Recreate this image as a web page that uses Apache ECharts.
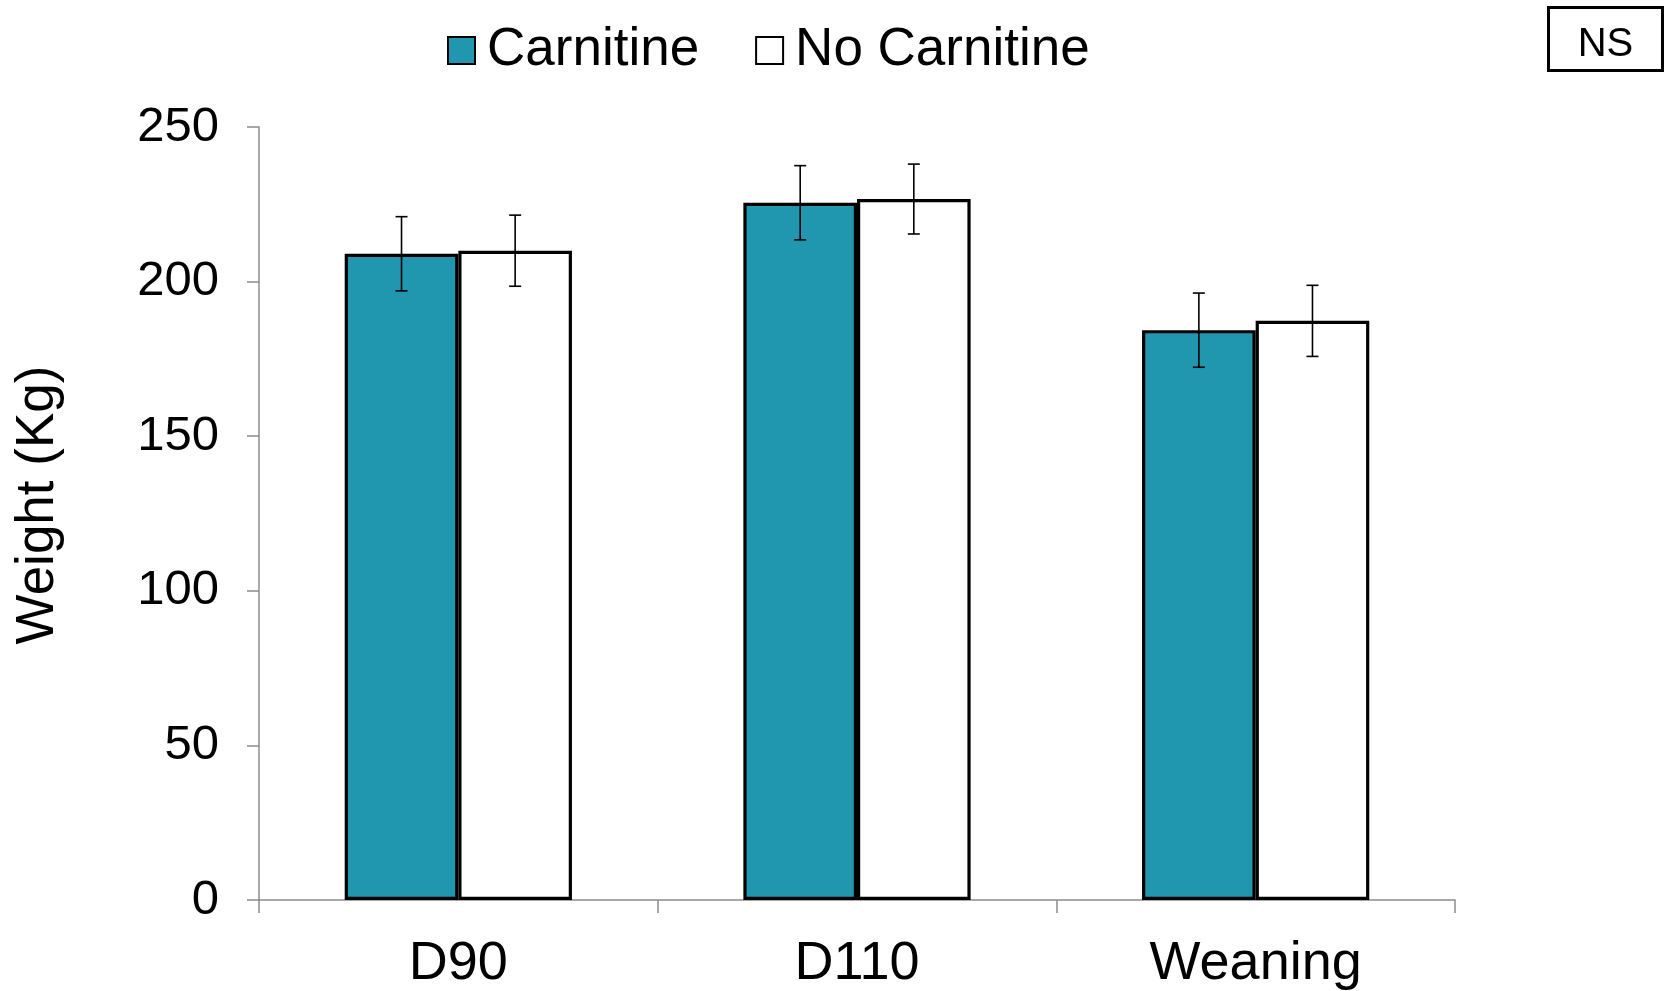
<!DOCTYPE html>
<html>
<head>
<meta charset="utf-8">
<script src="https://cdn.jsdelivr.net/npm/echarts@6/dist/echarts.min.js"></script>
<style>
html,body{margin:0;padding:0;background:#fff;}
#chart{width:1665px;height:991px;}
</style>
</head>
<body>
<div id="chart"></div>
<script>
const categories = ['D90', 'D110', 'Weaning'];
const carnitine = [209, 225.5, 184.3];
const noCarnitine = [210, 226.7, 187.3];
const carnitineErr = [12, 12, 12];
const noCarnitineErr = [11.5, 11.3, 11.5];
const yTicks = [0, 50, 100, 150, 200, 250];

const FONT = 'Liberation Sans, Arial, sans-serif';
const GAP = 0.43;

function errItem(offsetSign) {
  return function (params, api) {
    const idx = api.value(0);
    const val = api.value(1);
    const err = api.value(2);
    const band = api.size([1, 0])[0];
    const barW = band * (1 - GAP) / 2;
    const c = api.coord([idx, val]);
    const x = c[0] + offsetSign * barW / 2;
    const yt = api.coord([idx, val + err])[1];
    const yb = api.coord([idx, val - err])[1];
    const cap = 6;
    const style = { stroke: '#000', lineWidth: 1.6, fill: null };
    return {
      type: 'group',
      children: [
        { type: 'line', shape: { x1: x, y1: yt, x2: x, y2: yb }, style: style },
        { type: 'line', shape: { x1: x - cap, y1: yt, x2: x + cap, y2: yt }, style: style },
        { type: 'line', shape: { x1: x - cap, y1: yb, x2: x + cap, y2: yb }, style: style }
      ]
    };
  };
}

const chart = echarts.init(document.getElementById('chart'), null, { renderer: 'canvas' });
chart.setOption({
  animation: false,
  backgroundColor: '#fff',
  textStyle: { fontFamily: FONT },
  legend: {
    data: ['Carnitine', 'No Carnitine'],
    top: 19,
    left: 442,
    itemWidth: 27,
    itemHeight: 27,
    itemGap: 56,
    icon: 'rect',
    textStyle: { fontSize: 53, color: '#000', fontFamily: FONT, padding: [0, 0, 0, 7] }
  },
  grid: { left: 259, right: 210, top: 127, bottom: 91, containLabel: false },
  xAxis: {
    type: 'category',
    data: categories,
    axisLine: { lineStyle: { color: '#8c8c8c', width: 1.5 } },
    axisTick: { show: true, length: 13, lineStyle: { color: '#8c8c8c', width: 1.5 } },
    axisLabel: { fontSize: 54, color: '#000', margin: 37, fontFamily: FONT }
  },
  yAxis: {
    type: 'value',
    min: yTicks[0],
    max: yTicks[yTicks.length - 1],
    interval: 50,
    name: 'Weight (Kg)',
    nameLocation: 'middle',
    nameGap: 194,
    nameRotate: 90,
    nameTextStyle: { fontSize: 53, color: '#000', fontFamily: FONT, padding: [0, 0, 0, 17] },
    axisLine: { show: true, lineStyle: { color: '#8c8c8c', width: 1.5 } },
    axisTick: { show: true, length: 12, lineStyle: { color: '#8c8c8c', width: 1.5 } },
    splitLine: { show: false },
    axisLabel: { fontSize: 49, color: '#000', margin: 40, fontFamily: FONT }
  },
  series: [
    {
      name: 'Carnitine',
      type: 'bar',
      data: carnitine,
      barGap: '0%',
      barCategoryGap: (GAP * 100) + '%',
      itemStyle: { color: '#2197AF', borderColor: '#000', borderWidth: 3.2 }
    },
    {
      name: 'No Carnitine',
      type: 'bar',
      data: noCarnitine,
      barGap: '0%',
      barCategoryGap: (GAP * 100) + '%',
      itemStyle: { color: '#ffffff', borderColor: '#000', borderWidth: 3.2 }
    },
    {
      name: 'errC',
      type: 'custom',
      renderItem: errItem(-1),
      data: carnitine.map((v, i) => [i, v, carnitineErr[i]]),
      z: 10
    },
    {
      name: 'errN',
      type: 'custom',
      renderItem: errItem(1),
      data: noCarnitine.map((v, i) => [i, v, noCarnitineErr[i]]),
      z: 10
    }
  ],
  graphic: [
    {
      type: 'group',
      left: 1547,
      top: 6,
      children: [
        { type: 'rect', shape: { x: 0, y: 0, width: 114, height: 63 }, style: { fill: '#fff', stroke: '#000', lineWidth: 3 } },
        { type: 'text', style: { x: 57, y: 37, text: 'NS', font: '40px ' + FONT, fill: '#000', textAlign: 'center', textVerticalAlign: 'middle' } }
      ]
    }
  ]
});
</script>
</body>
</html>
